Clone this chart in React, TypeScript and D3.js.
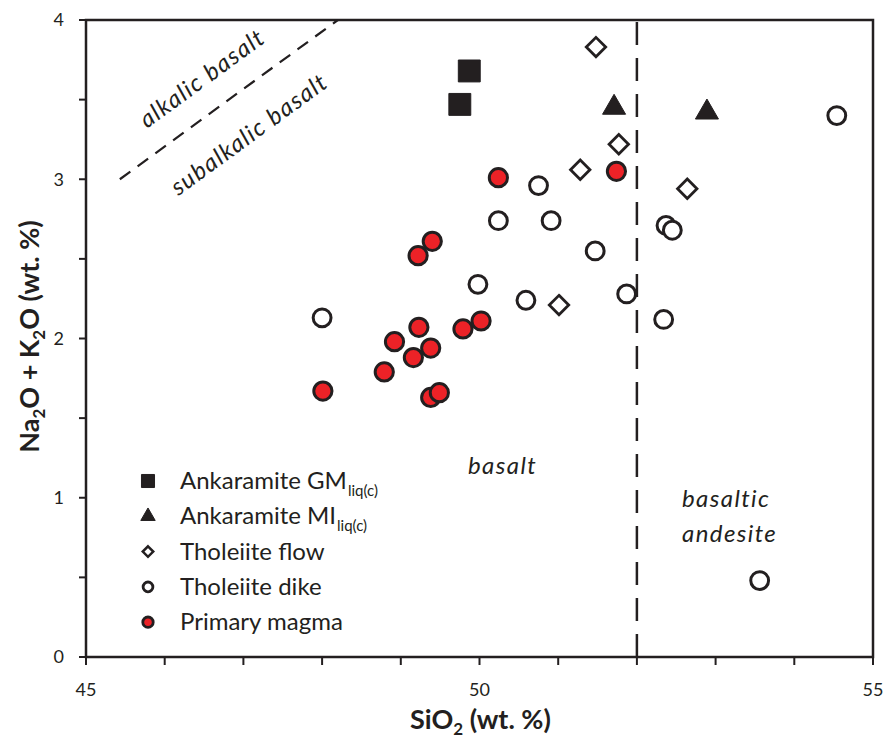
import React, { useEffect, useRef } from 'react';
import * as d3 from 'd3';

// SiO2 vs Na2O+K2O (wt. %)
const gmSi = [49.87, 49.75];
const gmAlk = [3.68, 3.47];

const miSi = [51.71, 52.89];
const miAlk = [3.45, 3.42];

const flowSi = [51.48, 51.77, 51.28, 52.64, 51.01];
const flowAlk = [3.83, 3.22, 3.06, 2.94, 2.21];

const dikeSi = [54.54, 50.75, 50.24, 50.91, 52.37, 52.45, 51.47, 49.98, 50.59, 51.87, 52.34, 48.0, 53.56];
const dikeAlk = [3.4, 2.96, 2.74, 2.74, 2.71, 2.68, 2.55, 2.34, 2.24, 2.28, 2.12, 2.13, 0.48];

const primSi = [50.24, 51.74, 49.4, 49.22, 49.23, 48.92, 49.38, 49.16, 49.79, 50.02, 48.79, 48.01, 49.38, 49.49];
const primAlk = [3.01, 3.05, 2.61, 2.52, 2.07, 1.98, 1.94, 1.88, 2.06, 2.11, 1.79, 1.67, 1.63, 1.66];

const xTicks = [45, 50, 55];
const yTicks = [0, 1, 2, 3, 4];
const alkLine = [[45.43, 3.0], [48.2, 4.0]];
const basaltDivide = 52;

const legendLabels = ['Ankaramite GM', 'Ankaramite MI', 'Tholeiite flow', 'Tholeiite dike', 'Primary magma'];

const INK = '#231f20';
const RED = '#ec2227';
const FONT = 'Lato, "Open Sans", sans-serif';

export default function App() {
  const ref = useRef<SVGSVGElement>(null);

  useEffect(() => {
    const width = 889;
    const height = 748;
    const margin = { top: 20, right: 16, bottom: 91, left: 86 };

    const svg = d3.select(ref.current);
    svg.selectAll('*').remove();

    const x = d3.scaleLinear().domain([45, 55]).range([margin.left, width - margin.right]);
    const y = d3.scaleLinear().domain([0, 4]).range([height - margin.bottom, margin.top]);

    // plot frame
    svg
      .append('rect')
      .attr('x', x(45))
      .attr('y', y(4))
      .attr('width', x(55) - x(45))
      .attr('height', y(0) - y(4))
      .attr('fill', 'none')
      .attr('stroke', INK)
      .attr('stroke-width', 2.5);

    // x ticks (every 1)
    svg
      .append('g')
      .selectAll('line')
      .data(d3.range(45, 55.01, 1))
      .join('line')
      .attr('x1', (d) => x(d))
      .attr('x2', (d) => x(d))
      .attr('y1', y(0))
      .attr('y2', y(0) + 8)
      .attr('stroke', INK)
      .attr('stroke-width', 2);

    // y ticks (every 0.5)
    svg
      .append('g')
      .selectAll('line')
      .data(d3.range(0, 4.01, 0.5))
      .join('line')
      .attr('x1', x(45) - 7)
      .attr('x2', x(45))
      .attr('y1', (d) => y(d))
      .attr('y2', (d) => y(d))
      .attr('stroke', INK)
      .attr('stroke-width', 2);

    svg
      .append('g')
      .selectAll('text')
      .data(xTicks)
      .join('text')
      .attr('x', (d) => x(d))
      .attr('y', y(0) + 39)
      .attr('text-anchor', 'middle')
      .attr('font-family', FONT)
      .attr('font-size', 18)
      .attr('fill', INK)
      .text((d) => d);

    svg
      .append('g')
      .selectAll('text')
      .data(yTicks)
      .join('text')
      .attr('x', x(45) - 22)
      .attr('y', (d) => y(d))
      .attr('dy', '0.35em')
      .attr('text-anchor', 'end')
      .attr('font-family', FONT)
      .attr('font-size', 18)
      .attr('fill', INK)
      .text((d) => d);

    // axis titles
    const xt = svg
      .append('text')
      .attr('x', (x(45) + x(55)) / 2 + 1)
      .attr('y', 729)
      .attr('text-anchor', 'middle')
      .attr('font-family', FONT)
      .attr('font-size', 27)
      .attr('font-weight', 'bold')
      .attr('fill', INK);
    xt.append('tspan').text('SiO');
    xt.append('tspan').attr('font-size', 17).attr('dy', 6).text('2');
    xt.append('tspan').attr('dy', -6).text(' (wt. %)');

    const yt = svg
      .append('text')
      .attr('transform', `translate(39, ${y(2) - 2}) rotate(-90)`)
      .attr('text-anchor', 'middle')
      .attr('font-family', FONT)
      .attr('font-size', 27)
      .attr('font-weight', 'bold')
      .attr('fill', INK);
    yt.append('tspan').text('Na');
    yt.append('tspan').attr('font-size', 17).attr('dy', 6).text('2');
    yt.append('tspan').attr('dy', -6).text('O + K');
    yt.append('tspan').attr('font-size', 17).attr('dy', 6).text('2');
    yt.append('tspan').attr('dy', -6).text('O (wt. %)');

    // divider lines
    svg
      .append('line')
      .attr('x1', x(basaltDivide))
      .attr('x2', x(basaltDivide))
      .attr('y1', y(0))
      .attr('y2', y(4))
      .attr('stroke', INK)
      .attr('stroke-width', 2.5)
      .attr('stroke-dasharray', '23 13');

    svg
      .append('path')
      .datum(alkLine)
      .attr('d', d3.line().x((d) => x(d[0])).y((d) => y(d[1])))
      .attr('stroke', INK)
      .attr('stroke-width', 2.2)
      .attr('stroke-dasharray', '13 9')
      .attr('fill', 'none');

    const ang = (Math.atan2(y(alkLine[1][1]) - y(alkLine[0][1]), x(alkLine[1][0]) - x(alkLine[0][0])) * 180) / Math.PI;

    const field = (t: string, px: number, py: number, rot = 0, anchor = 'start') =>
      svg
        .append('text')
        .attr('transform', `translate(${px}, ${py}) rotate(${rot})`)
        .attr('text-anchor', anchor)
        .attr('font-family', FONT)
        .attr('font-style', 'italic')
        .attr('font-size', 24)
        .attr('letter-spacing', 1.4)
        .attr('fill', INK)
        .text(t);

    field('alkalic basalt', 207, 85, ang, 'middle');
    field('subalkalic basalt', 254, 141, ang, 'middle');
    field('basalt', 468, 474);
    field('basaltic', 682, 507);
    field('andesite', 682, 542);

    // markers
    const sym = (type: d3.SymbolType, size: number) => d3.symbol().type(type).size(size)();

    const plot = (xs: number[], ys: number[], type: d3.SymbolType, size: number, fill: string, stroke: string, sw: number) =>
      svg
        .append('g')
        .selectAll('path')
        .data(xs.map((v, i) => [v, ys[i]]))
        .join('path')
        .attr('transform', (d) => `translate(${x(d[0])}, ${y(d[1])})`)
        .attr('d', sym(type, size))
        .attr('fill', fill)
        .attr('stroke', stroke)
        .attr('stroke-width', sw);

    plot(dikeSi, dikeAlk, d3.symbolCircle, 250, 'white', INK, 3);
    plot(flowSi, flowAlk, d3.symbolDiamond2, 240, 'white', INK, 2.8);
    plot(primSi, primAlk, d3.symbolCircle, 260, RED, INK, 3);
    plot(gmSi, gmAlk, d3.symbolSquare, 480, INK, INK, 1);
    plot(miSi, miAlk, d3.symbolTriangle, 230, INK, INK, 1);

    // legend
    const legendSyms: [d3.SymbolType, number, string, number][] = [
      [d3.symbolSquare, 170, INK, 1],
      [d3.symbolTriangle, 90, INK, 1],
      [d3.symbolDiamond2, 70, 'white', 2.5],
      [d3.symbolCircle, 75, 'white', 2.8],
      [d3.symbolCircle, 85, RED, 2.8],
    ];
    const lg = svg.append('g').attr('transform', 'translate(148, 481)');
    legendLabels.forEach((label, i) => {
      const row = lg.append('g').attr('transform', `translate(0, ${i * 35.3})`);
      const [t, s, f, sw] = legendSyms[i];
      row
        .append('path')
        .attr('d', sym(t, s))
        .attr('fill', f)
        .attr('stroke', INK)
        .attr('stroke-width', sw);
      const txt = row
        .append('text')
        .attr('x', 32)
        .attr('y', 8)
        .attr('font-family', FONT)
        .attr('font-size', 24)
        .attr('fill', INK);
      txt.append('tspan').text(label);
      if (i < 2) txt.append('tspan').attr('font-size', 15).attr('dy', 7).attr('dx', 1).text('liq(c)');
    });
  }, []);

  return (
    <svg
      ref={ref}
      width={889}
      height={748}
      style={{ position: 'absolute', left: 0, top: 0, background: 'white' }}
    />
  );
}
